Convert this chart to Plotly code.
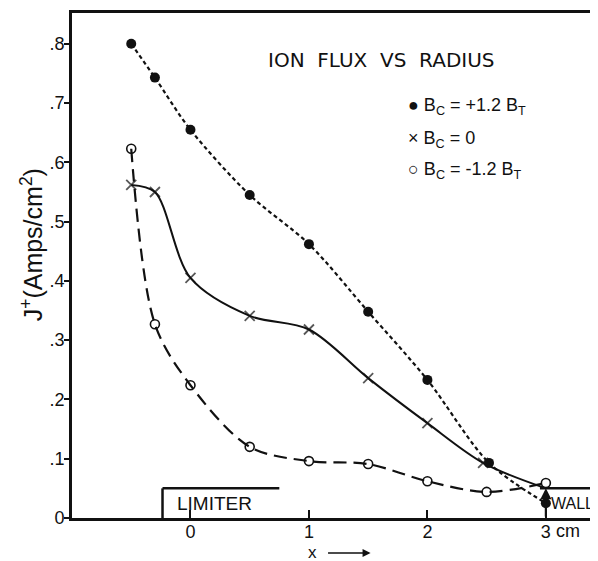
import plotly.graph_objects as go

# Data
x_pos = [-0.5, -0.3, 0.0, 0.5, 1.0, 1.5, 2.0, 2.52, 3.0]
y_pos = [0.80, 0.743, 0.655, 0.545, 0.462, 0.348, 0.233, 0.093, 0.025]

x_zero = [-0.5, -0.3, 0.0, 0.5, 1.0, 1.5, 2.0, 2.47, 3.0]
y_zero = [0.562, 0.55, 0.405, 0.341, 0.318, 0.236, 0.160, 0.093, 0.05]

x_neg = [-0.5, -0.3, 0.0, 0.5, 1.0, 1.5, 2.0, 2.5, 3.0]
y_neg = [0.623, 0.327, 0.224, 0.12, 0.096, 0.091, 0.062, 0.044, 0.059]

y_ticks = [0, 0.1, 0.2, 0.3, 0.4, 0.5, 0.6, 0.7, 0.8]
y_ticktext = ["0", ".1", ".2", ".3", ".4", ".5", ".6", ".7", ".8"]
x_ticks = [0, 1, 2, 3]
x_ticktext = ["0", "1", "2", "3"]

limiter = dict(x0=-0.236, x1=0.75, y=0.05)
wall = dict(x=3.0, y=0.05)

FONT = "Liberation Sans"
INK = "#111111"

fig = go.Figure()

fig.add_trace(go.Scatter(
    x=x_neg, y=y_neg, mode="lines+markers",
    line=dict(color=INK, width=2.2, dash="13px,7px", shape="spline", smoothing=0.9),
    marker=dict(symbol="circle-open", size=9, color=INK, line=dict(width=1.6)),
))
fig.add_trace(go.Scatter(
    x=x_zero, y=y_zero, mode="lines+markers",
    line=dict(color=INK, width=2, shape="spline", smoothing=0.9),
    marker=dict(symbol="x-thin", size=[10] * (len(x_zero) - 1) + [0], color=INK,
                line=dict(width=1.8, color=INK)),
))
fig.add_trace(go.Scatter(
    x=x_pos, y=y_pos, mode="lines+markers",
    line=dict(color=INK, width=2.2, dash="4px,3px", shape="spline", smoothing=0.9),
    marker=dict(symbol="circle", size=10, color=INK),
))

# Limiter box
fig.add_shape(type="line", x0=limiter["x0"], x1=limiter["x0"], y0=0, y1=limiter["y"],
              line=dict(color=INK, width=2.5))
fig.add_shape(type="line", x0=limiter["x0"], x1=limiter["x1"], y0=limiter["y"], y1=limiter["y"],
              line=dict(color=INK, width=2.5))
fig.add_annotation(x=limiter["x0"], y=0.024, xref="x", yref="y", text="LIMITER",
                   showarrow=False, xanchor="left", xshift=12,
                   font=dict(family=FONT, size=19, color=INK))

# Wall
fig.add_shape(type="line", x0=wall["x"] - 0.05, x1=3.44, y0=wall["y"], y1=wall["y"],
              line=dict(color=INK, width=2.5))
fig.add_annotation(x=wall["x"], y=wall["y"], ax=wall["x"], ay=0, xref="x", yref="y",
                   axref="x", ayref="y", text="", showarrow=True, arrowhead=2,
                   arrowsize=1, arrowwidth=2.2, arrowcolor=INK)
fig.add_annotation(x=wall["x"], y=0.025, xref="x", yref="y", text="WALL",
                   showarrow=False, xanchor="left", xshift=3,
                   font=dict(family=FONT, size=16, color=INK))

# Title and legend text
fig.add_annotation(x=1.61, y=0.773, xref="x", yref="y",
                   text="ION&nbsp; FLUX&nbsp; VS&nbsp; RADIUS",
                   showarrow=False, font=dict(family="DejaVu Sans", size=20, color=INK))
legend_lines = [
    ("● B<sub>C</sub> = +1.2 B<sub>T</sub>", 0.695),
    ("× B<sub>C</sub> = 0", 0.638),
    ("○ B<sub>C</sub> = -1.2 B<sub>T</sub>", 0.587),
]
for txt, yy in legend_lines:
    fig.add_annotation(x=1.82, y=yy, xref="x", yref="y", text=txt, showarrow=False,
                       xanchor="left", font=dict(family=FONT, size=18, color=INK))

# y axis title
fig.add_annotation(x=0, y=0.46, xref="paper", yref="y", xanchor="center",
                   text="J<sup>+</sup>(Amps/cm<sup>2</sup>)", textangle=-90,
                   showarrow=False, xshift=-40, font=dict(family=FONT, size=25, color=INK))

# "cm" next to 3 tick label
fig.add_annotation(x=3, y=0, xref="x", yref="paper", text="cm", showarrow=False,
                   xanchor="left", yanchor="middle", xshift=8, yshift=-13,
                   font=dict(family=FONT, size=18, color=INK))

# x axis label with arrow
fig.add_annotation(x=1.03, y=0, xref="x", yref="paper", text="x", showarrow=False,
                   xanchor="center", yanchor="middle", yshift=-34,
                   font=dict(family=FONT, size=17, color=INK))
fig.add_annotation(x=1.52, y=0, xref="x", yref="paper", ax=-44, ay=0,
                   axref="pixel", ayref="pixel", yshift=-35, text="", showarrow=True,
                   arrowhead=2, arrowsize=1, arrowwidth=1.6, arrowcolor=INK)

# page body has an 8px margin, so the figure is 8px smaller than the window
fig.update_layout(
    width=590, height=553,
    margin=dict(l=64, r=0, t=5, b=43),
    paper_bgcolor="white", plot_bgcolor="white",
    showlegend=False,
    font=dict(family=FONT, size=17, color=INK),
    xaxis=dict(range=[-1.0, 3.44], tickvals=x_ticks, ticktext=x_ticktext, automargin=False,
               showgrid=False, zeroline=False, showline=True, linecolor=INK, linewidth=3,
               mirror=True, ticks="inside", ticklen=8, tickwidth=2, tickcolor=INK,
               ticklabelstandoff=-5,
               tickfont=dict(family=FONT, size=18, color=INK)),
    yaxis=dict(range=[0, 0.852], tickvals=y_ticks, ticktext=y_ticktext, automargin=False,
               showgrid=False, zeroline=False, showline=True, linecolor=INK, linewidth=3,
               ticks="outside", ticklen=5, tickwidth=2, tickcolor=INK,
               ticklabelstandoff=-4,
               tickfont=dict(family=FONT, size=18, color=INK)),
)

fig.write_html("out.html")
